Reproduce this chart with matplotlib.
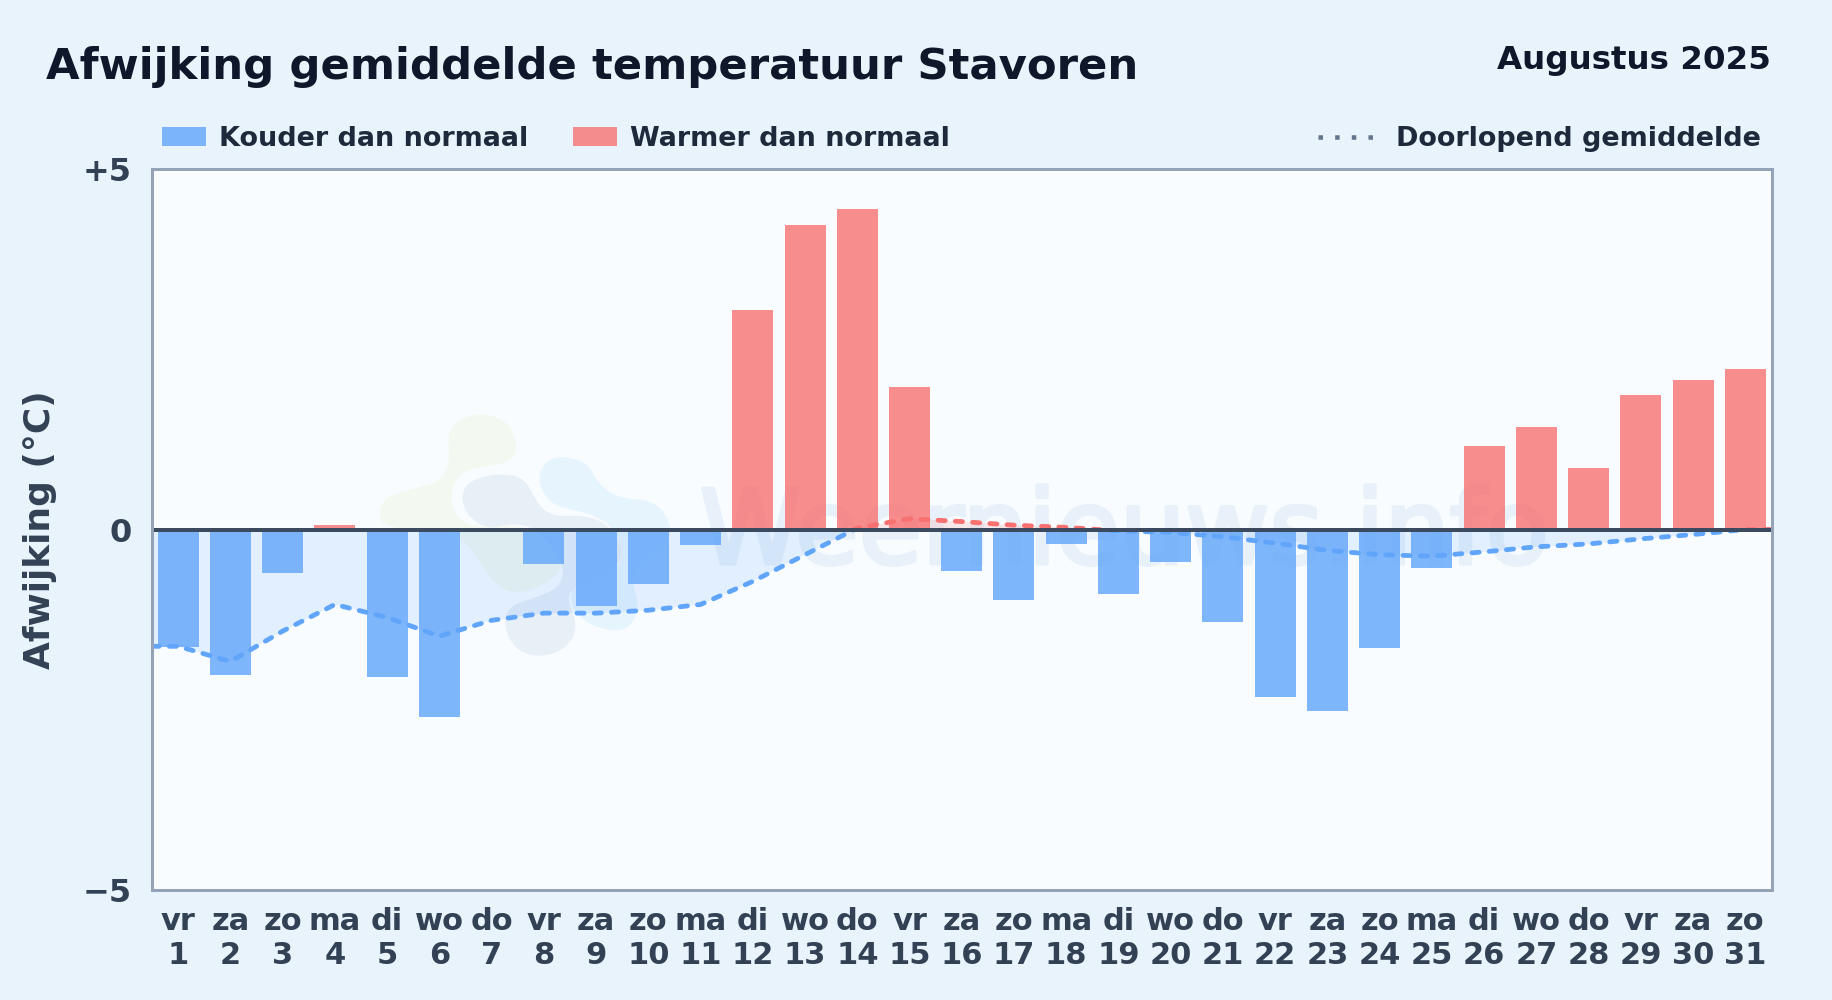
import numpy as np
import matplotlib
matplotlib.use('Agg')
import matplotlib.pyplot as plt
import matplotlib.patheffects as pe
from matplotlib.patches import Rectangle, PathPatch
from matplotlib.path import Path
from matplotlib.lines import Line2D

# Data
days = list(range(1, 32))
weekdays = ['vr', 'za', 'zo', 'ma', 'di', 'wo', 'do', 'vr', 'za', 'zo', 'ma', 'di', 'wo', 'do', 'vr', 'za',
            'zo', 'ma', 'di', 'wo', 'do', 'vr', 'za', 'zo', 'ma', 'di', 'wo', 'do', 'vr', 'za', 'zo']
deviation = [-1.63, -2.02, -0.60, 0.06, -2.04, -2.60, -0.03, -0.48, -1.06, -0.75, -0.22,
             3.04, 4.22, 4.45, 1.97, -0.58, -0.98, -0.20, -0.90, -0.45, -1.28,
             -2.33, -2.52, -1.65, -0.54, 1.16, 1.42, 0.85, 1.86, 2.08, 2.22]
running_mean = [-1.62, -1.83, -1.41, -1.04, -1.22, -1.48, -1.26, -1.16, -1.16, -1.12, -1.04,
                -0.72, -0.35, 0.02, 0.15, 0.11, 0.06, 0.03, -0.02, -0.04, -0.10,
                -0.19, -0.29, -0.35, -0.37, -0.31, -0.24, -0.20, -0.13, -0.07, 0.0]
y_ticks = [-5, 0, 5]
y_tick_labels = ['\u22125', '0', '+5']

W, H = 1832, 1000
BG = '#e8f3fc'
BLUE = '#60a5fa'
RED = '#f87171'

logo_green = [(370, 38), (445, 65), (475, 135), (455, 185), (380, 198), (300, 215), (270, 280), (285, 350),
              (350, 385), (450, 375), (530, 390), (610, 480), (590, 530), (500, 580), (420, 570), (370, 500),
              (300, 400), (70, 385), (55, 330), (85, 285), (170, 265), (240, 245), (270, 190), (262, 100),
              (300, 55)]
logo_grey = [(430, 220), (495, 235), (525, 300), (570, 350), (680, 345), (755, 380), (800, 470), (730, 530),
             (640, 560), (620, 600), (655, 680), (620, 745), (550, 772), (470, 755), (430, 680), (445, 620),
             (510, 598), (600, 565), (615, 490), (530, 385), (460, 370), (380, 388), (320, 345), (300, 280),
             (340, 235)]
logo_blue = [(620, 170), (685, 190), (710, 245), (770, 295), (880, 300), (930, 360), (930, 420), (870, 470),
             (810, 530), (840, 620), (810, 685), (750, 695), (660, 660), (625, 590), (650, 555), (740, 530),
             (800, 470), (760, 380), (690, 340), (610, 325), (560, 300), (530, 230), (565, 175)]


def px(size):
    # pixel size to points at dpi 100
    return size * 0.72


def fx(x):
    return x / W


def fy(y):
    return 1 - y / H


def blob(ax, fig, points, color):
    # closed smooth shape through the midpoints of the control points
    pts = np.array([(fx(360 + x / 3), fy(400 + y / 3)) for x, y in points])
    mids = (pts + np.roll(pts, -1, axis=0)) / 2
    verts = [mids[-1]]
    codes = [Path.MOVETO]
    for p, m in zip(pts, mids):
        verts += [p, m]
        codes += [Path.CURVE3, Path.CURVE3]
    ax.add_patch(PathPatch(Path(verts, codes), facecolor=color, edgecolor='none',
                           transform=fig.transFigure, zorder=0.5))


fig = plt.figure(figsize=(W / 100, H / 100), dpi=100, facecolor=BG)
ax = fig.add_axes([fx(152), fy(890), (1771.5 - 152) / W, 721 / H], facecolor='#f8fcff')

# watermark
blob(ax, fig, logo_green, '#f3f9f0')
blob(ax, fig, logo_grey, '#e7eff7')
blob(ax, fig, logo_blue, '#e6f4fe')
ax.text(fx(1124), fy(535), 'Weernieuws.info', transform=fig.transFigure, fontsize=px(103), color='#e8f1f9',
        ha='center', va='center', zorder=0.6,
        path_effects=[pe.withStroke(linewidth=px(4), foreground='#e8f1f9')])

colors = [RED if v > 0 else BLUE for v in deviation]
ax.bar(days, deviation, width=0.785, color=colors, alpha=0.8, linewidth=0, zorder=2)

# running mean runs on to both edges of the plot
x_line = [0.5] + days + [31.5]
y_line = np.array([running_mean[0]] + running_mean + [running_mean[-1]])
ax.fill_between(x_line, y_line, 0, where=y_line <= 0, interpolate=True, color=BLUE, alpha=0.15, linewidth=0, zorder=1)
ax.fill_between(x_line, y_line, 0, where=y_line >= 0, interpolate=True, color=RED, alpha=0.15, linewidth=0, zorder=1)

# same dash pattern for both colours, each clipped to its side of zero
for color, y0, h in [(BLUE, -5, 5), (RED, 0, 5)]:
    line, = ax.plot(x_line, y_line, color=color, lw=px(4.8), linestyle=(0, (1.5, 2.1)),
                    dash_capstyle='round', zorder=3)
    line.set_clip_path(Rectangle((0.5, y0), 31, h, transform=ax.transData))

ax.axhline(0, color='#3b4a5f', lw=px(4), zorder=4)

ax.set_xlim(0.5, 31.5)
ax.set_ylim(-5, 5)
ax.set_xticks(days, [f'{d}\n{n}' for d, n in zip(weekdays, days)])
ax.set_yticks(y_ticks, y_tick_labels)
ax.tick_params(axis='both', length=0, labelcolor='#334155')
ax.tick_params(axis='x', pad=px(17), labelsize=px(30.5))
ax.tick_params(axis='y', pad=px(20), labelsize=px(32))
for lab in ax.get_xticklabels() + ax.get_yticklabels():
    lab.set_fontweight('bold')
for s in ax.spines.values():
    s.set_color('#94a3b8')
    s.set_linewidth(px(3))
    s.set_zorder(5)

fig.text(fx(40.5), fy(530), 'Afwijking (\u00b0C)', rotation=90, fontsize=px(36), fontweight='bold',
         color='#334155', ha='center', va='center')
fig.text(fx(45.5), fy(67), 'Afwijking gemiddelde temperatuur Stavoren', fontsize=px(43.4), fontweight='bold',
         color='#0f172a', ha='left', va='center')
fig.text(fx(1770.5), fy(60.5), 'Augustus 2025', fontsize=px(32.5), fontweight='bold', color='#0f172a',
         ha='right', va='center')

# legend
for x0, color, label, tx in [(161.5, BLUE, 'Kouder dan normaal', 219), (573, RED, 'Warmer dan normaal', 629.5)]:
    fig.add_artist(Rectangle((fx(x0), fy(146)), 44 / W, 19 / H, transform=fig.transFigure,
                             facecolor=color, alpha=0.8, edgecolor='none'))
    fig.text(fx(tx), fy(138.5), label, fontsize=px(27), fontweight='bold', color='#1e293b', ha='left', va='center')
fig.add_artist(Line2D([fx(1318), fx(1373)], [fy(136.7), fy(136.7)], transform=fig.transFigure, color='#64748b',
                      lw=px(4.5), linestyle=(0, (1, 2.7))))
fig.text(fx(1396), fy(138.5), 'Doorlopend gemiddelde', fontsize=px(27), fontweight='bold', color='#1e293b',
         ha='left', va='center')

fig.savefig('out.png', dpi=100, facecolor=fig.get_facecolor())
